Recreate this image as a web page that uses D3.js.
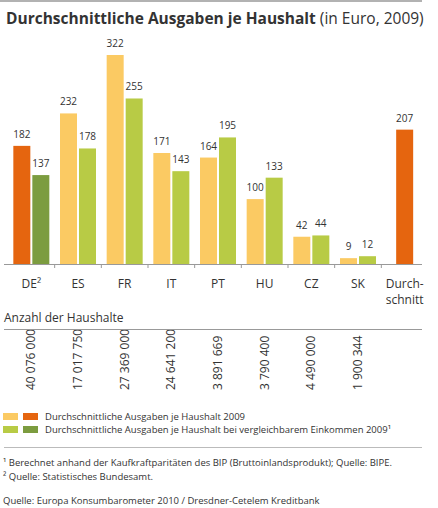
<!DOCTYPE html><html><head><meta charset="utf-8">
<script src="https://cdn.jsdelivr.net/npm/d3@7"></script>
<style>body{margin:0;background:#fff}text{font-family:"Open Sans",sans-serif;fill:#333}</style></head><body>
<svg id="c" width="438" height="508"></svg>
<script>
const categories=["DE²","ES","FR","IT","PT","HU","CZ","SK","Durch-|schnitt"];
const spend2009=[182,232,322,171,164,100,42,9,207];
const spendComparable=[137,178,255,143,195,133,44,12,null];
const households=["40 076 000","17 017 750","27 369 000","24 641 200","3 891 669","3 790 400","4 490 000","1 900 344",""];
const svg=d3.select("#c");
const x=d3.scaleBand().domain(d3.range(categories.length)).range([8,428]).paddingInner(0).paddingOuter(0);
const y=d3.scaleLinear().domain([0,322]).range([264,55]);
const bw=17;
const light1="#fbca63",dark1="#e5650f",light2="#b8cb45",dark2="#7c9c3f";
svg.append("line").attr("x1",0).attr("x2",422).attr("y1",1).attr("y2",1).attr("stroke","#999").attr("stroke-width",1.5);
const t=svg.append("text").attr("x",6).attr("y",24).style("font-size","15.5px");
t.append("tspan").attr("font-weight","bold").text("Durchschnittliche Ausgaben je Haushalt");
t.append("tspan").text(" (in Euro, 2009)");
categories.forEach((c,i)=>{
  const cx=x(i)+x.bandwidth()/2;
  const a=spend2009[i],b=spendComparable[i];
  const isDE=i===0,isAvg=b===null;
  const ax=isAvg?cx-bw/2:cx-bw-1, bx=cx+1;
  svg.append("rect").attr("x",ax).attr("y",y(a)).attr("width",bw).attr("height",y(0)-y(a)).attr("fill",(isDE||isAvg)?dark1:light1);
  svg.append("text").attr("x",ax+bw/2).attr("y",y(a)-8).attr("text-anchor","middle").style("font-size","10px").text(a);
  if(!isAvg){
    svg.append("rect").attr("x",bx).attr("y",y(b)).attr("width",bw).attr("height",y(0)-y(b)).attr("fill",isDE?dark2:light2);
    svg.append("text").attr("x",bx+bw/2).attr("y",y(b)-8).attr("text-anchor","middle").style("font-size","10px").text(b);
  }
  const parts=c.split("|");
  parts.forEach((p,k)=>svg.append("text").attr("x",cx).attr("y",288+k*16).attr("text-anchor","middle").style("font-size","12px").text(p));
  if(i>0) svg.append("line").attr("x1",x(i)).attr("x2",x(i)).attr("y1",264).attr("y2",268).attr("stroke","#999");
  svg.append("text").attr("transform",`translate(${cx+4},390) rotate(-90)`).style("font-size","12px").text(households[i]);
});
svg.append("line").attr("x1",4).attr("x2",422).attr("y1",264.5).attr("y2",264.5).attr("stroke","#999");
svg.append("text").attr("x",4).attr("y",322).style("font-size","12px").text("Anzahl der Haushalte");
svg.append("line").attr("x1",4).attr("x2",422).attr("y1",329.5).attr("y2",329.5).attr("stroke","#999");
[[light1,dark1,"Durchschnittliche Ausgaben je Haushalt 2009",416],[light2,dark2,"Durchschnittliche Ausgaben je Haushalt bei vergleichbarem Einkommen 2009¹",429]].forEach(l=>{
  svg.append("rect").attr("x",3).attr("y",l[3]-3).attr("width",15).attr("height",7).attr("fill",l[0]);
  svg.append("rect").attr("x",23).attr("y",l[3]-3).attr("width",15).attr("height",7).attr("fill",l[1]);
  svg.append("text").attr("x",45).attr("y",l[3]+4).style("font-size","9.5px").text(l[2]);
});
svg.append("line").attr("x1",4).attr("x2",422).attr("y1",447.5).attr("y2",447.5).attr("stroke","#bbb");
[["¹ Berechnet anhand der Kaufkraftparitäten des BIP (Bruttoinlandsprodukt); Quelle: BIPE.",466],["² Quelle: Statistisches Bundesamt.",480],["Quelle: Europa Konsumbarometer 2010 / Dresdner-Cetelem Kreditbank",504]].forEach(f=>
  svg.append("text").attr("x",3).attr("y",f[1]).style("font-size","9.5px").text(f[0]));
</script></body></html>
